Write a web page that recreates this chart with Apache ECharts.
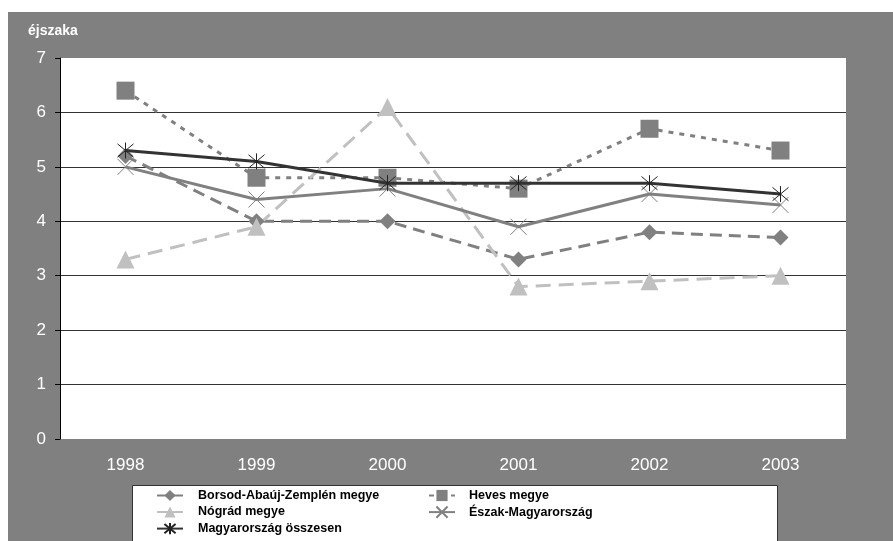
<!DOCTYPE html>
<html>
<head>
<meta charset="utf-8">
<script src="https://cdn.jsdelivr.net/npm/echarts@6/dist/echarts.min.js"></script>
<style>
  html, body { margin: 0; padding: 0; background: #fff; }
  #chart { width: 893px; height: 541px; }
</style>
</head>
<body>
<div id="chart"></div>
<script>
var chart = echarts.init(document.getElementById('chart'));

// adatok
var years = ['1998', '1999', '2000', '2001', '2002', '2003'];
var borsod = [5.2, 4.0, 4.0, 3.3, 3.8, 3.7];
var heves = [6.4, 4.8, 4.8, 4.6, 5.7, 5.3];
var nograd = [3.3, 3.9, 6.1, 2.8, 2.9, 3.0];
var eszak = [5.0, 4.4, 4.6, 3.9, 4.5, 4.3];
var orszag = [5.3, 5.1, 4.7, 4.7, 4.7, 4.5];

var font = 'Liberation Sans';
var crossPath = 'path://M0,0L10,10M10,0L0,10';
var starPath = 'path://M0,0L10,10M10,0L0,10M5,-1L5,11';

var legendText = { fontFamily: font, fontSize: 12.5, fontWeight: 'bold', color: '#000' };

var option = {
    backgroundColor: '#808080',
    animation: false,
    textStyle: { fontFamily: font },
    graphic: [
        { type: 'rect', left: 0, top: 0, shape: { width: 893, height: 12 }, style: { fill: '#fff' } },
        { type: 'rect', left: 0, top: 0, shape: { width: 8, height: 541 }, style: { fill: '#fff' } },
        {
            type: 'text', left: 28, top: 24,
            style: { text: 'éjszaka', fill: '#fff', font: 'bold 14px "Liberation Sans"' }
        },
        {
            type: 'rect', left: 132, top: 485, z: 1,
            shape: { width: 645, height: 70 },
            style: { fill: '#fff', stroke: '#333', lineWidth: 1 }
        }
    ],
    grid: {
        left: 60, right: 47, top: 58, bottom: 102,
        show: true, backgroundColor: '#fff', borderWidth: 0
    },
    legend: [
        {
            orient: 'vertical', left: 156, top: 489, padding: 0, z: 5,
            itemWidth: 26, itemHeight: 14, itemGap: 3.5,
            lineStyle: { type: 'solid' },
            textStyle: Object.assign({ padding: [0, 0, 0, 10] }, legendText),
            data: ['Borsod-Abaúj-Zemplén megye', 'Nógrád megye', 'Magyarország összesen']
        },
        {
            orient: 'vertical', left: 428, top: 489, padding: 0, z: 5,
            itemWidth: 26, itemHeight: 14, itemGap: 3.5,
            textStyle: Object.assign({ padding: [0, 0, 0, 9] }, legendText),
            data: ['Heves megye', 'Észak-Magyarország']
        }
    ],
    xAxis: {
        type: 'category',
        data: years,
        boundaryGap: true,
        axisLine: { show: false },
        axisTick: { show: false },
        axisLabel: { color: '#fff', fontSize: 17, fontFamily: font, margin: 18 }
    },
    yAxis: {
        type: 'value',
        min: 0, max: 7, interval: 1,
        axisLine: { show: true, lineStyle: { color: '#000', width: 1 } },
        axisTick: { show: true, length: 5, lineStyle: { color: '#000' } },
        axisLabel: { color: '#fff', fontSize: 17, fontFamily: font, margin: 14 },
        splitLine: {
            show: true,
            lineStyle: {
                color: ['rgba(0,0,0,0)', '#333', '#333', '#333', '#333', '#333', '#333', 'rgba(0,0,0,0)'],
                width: 1
            }
        }
    },
    series: [
        {
            name: 'Borsod-Abaúj-Zemplén megye', type: 'line', data: borsod, z: 3,
            symbol: 'diamond', symbolSize: 16,
            lineStyle: { color: '#808080', width: 3, type: [12, 7] },
            itemStyle: { color: '#808080' }
        },
        {
            name: 'Heves megye', type: 'line', data: heves, z: 3,
            symbol: 'rect', symbolSize: 18,
            lineStyle: { color: '#808080', width: 3, type: [5, 6] },
            itemStyle: { color: '#808080' }
        },
        {
            name: 'Nógrád megye', type: 'line', data: nograd, z: 3,
            symbol: 'triangle', symbolSize: 18,
            lineStyle: { color: '#c0c0c0', width: 3, type: [15, 8] },
            itemStyle: { color: '#c0c0c0' }
        },
        {
            name: 'Észak-Magyarország', type: 'line', data: eszak, z: 3,
            symbol: crossPath, symbolSize: 16,
            lineStyle: { color: '#808080', width: 3 },
            itemStyle: { color: 'rgba(0,0,0,0)', borderColor: '#808080', borderWidth: 1 }
        },
        {
            name: 'Magyarország összesen', type: 'line', data: orszag, z: 4,
            symbol: starPath, symbolSize: 16,
            lineStyle: { color: '#333', width: 3 },
            itemStyle: { color: 'rgba(0,0,0,0)', borderColor: '#222', borderWidth: 1 }
        }
    ]
};
chart.setOption(option);
</script>
</body>
</html>
